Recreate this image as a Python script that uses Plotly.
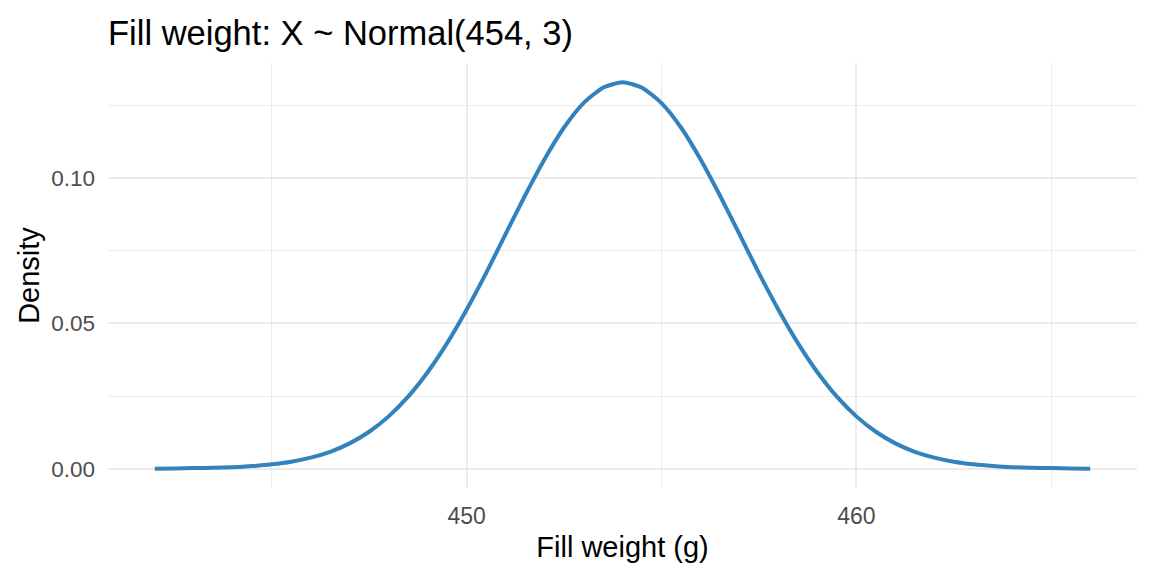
import plotly.graph_objects as go

# Fill weight (g) and the density
fill_weight = [442.0, 442.5, 443.0, 443.5, 444.0, 444.5, 445.0, 445.5, 446.0, 446.5,
               447.0, 447.5, 448.0, 448.5, 449.0, 449.5, 450.0, 450.5, 451.0, 451.5,
               452.0, 452.5, 453.0, 453.5, 454.0, 454.5, 455.0, 455.5, 456.0, 456.5,
               457.0, 457.5, 458.0, 458.5, 459.0, 459.5, 460.0, 460.5, 461.0, 461.5,
               462.0, 462.5, 463.0, 463.5, 464.0, 464.5, 465.0, 465.5, 466.0]
density = [0.0000, 0.0001, 0.0002, 0.0003, 0.0005, 0.0009, 0.0015, 0.0024, 0.0038, 0.0058,
           0.0087, 0.0127, 0.0180, 0.0248, 0.0332, 0.0432, 0.0547, 0.0673, 0.0807, 0.0940,
           0.1065, 0.1174, 0.1258, 0.1311, 0.1330, 0.1311, 0.1258, 0.1174, 0.1065, 0.0940,
           0.0807, 0.0673, 0.0547, 0.0432, 0.0332, 0.0248, 0.0180, 0.0127, 0.0087, 0.0058,
           0.0038, 0.0024, 0.0015, 0.0009, 0.0005, 0.0003, 0.0002, 0.0001, 0.0000]

x_ticks = [450, 460]
y_ticks = [0.00, 0.05, 0.10]

fig = go.Figure()
fig.add_trace(go.Scatter(x=fill_weight, y=density, mode="lines",
                         line=dict(color="#3182BD", width=4, shape="spline", smoothing=0.6),
                         hoverinfo="x+y"))

# page body has an 8px margin, so margins below are offset by it
grid = "#EBEBEB"
fig.update_layout(
    width=1152, height=576,
    paper_bgcolor="white", plot_bgcolor="white",
    margin=dict(l=100, r=23, t=55, b=96),
    font=dict(family="Liberation Sans, Arial, sans-serif", color="#4D4D4D"),
    showlegend=False,
    title=dict(text="Fill weight: X ~ Normal(454, 3)", x=100 / 1152, xref="container",
               xanchor="left", y=1 - 25 / 576, yref="container", yanchor="middle",
               font=dict(size=34.5, color="black")),
)
fig.update_xaxes(
    range=[440.8, 467.2], tickvals=x_ticks, ticks="", showline=False, zeroline=False,
    showgrid=True, gridcolor=grid, gridwidth=1.6,
    minor=dict(dtick=5, tick0=445, showgrid=True, gridcolor=grid, gridwidth=0.8),
    tickfont=dict(size=23, color="#4D4D4D"), ticklabelstandoff=12,
    title=dict(text="Fill weight (g)", font=dict(size=29, color="black"), standoff=8),
)
fig.update_yaxes(
    range=[-0.00665, 0.1396], tickvals=y_ticks, tickformat=".2f", ticks="",
    showline=False, zeroline=False,
    showgrid=True, gridcolor=grid, gridwidth=1.6,
    minor=dict(dtick=0.025, tick0=0.025, showgrid=True, gridcolor=grid, gridwidth=0.8),
    tickfont=dict(size=22.5, color="#4D4D4D"), ticklabelstandoff=12,
    title=dict(text="Density", font=dict(size=29, color="black"), standoff=3),
)

fig.write_html("out.html")
